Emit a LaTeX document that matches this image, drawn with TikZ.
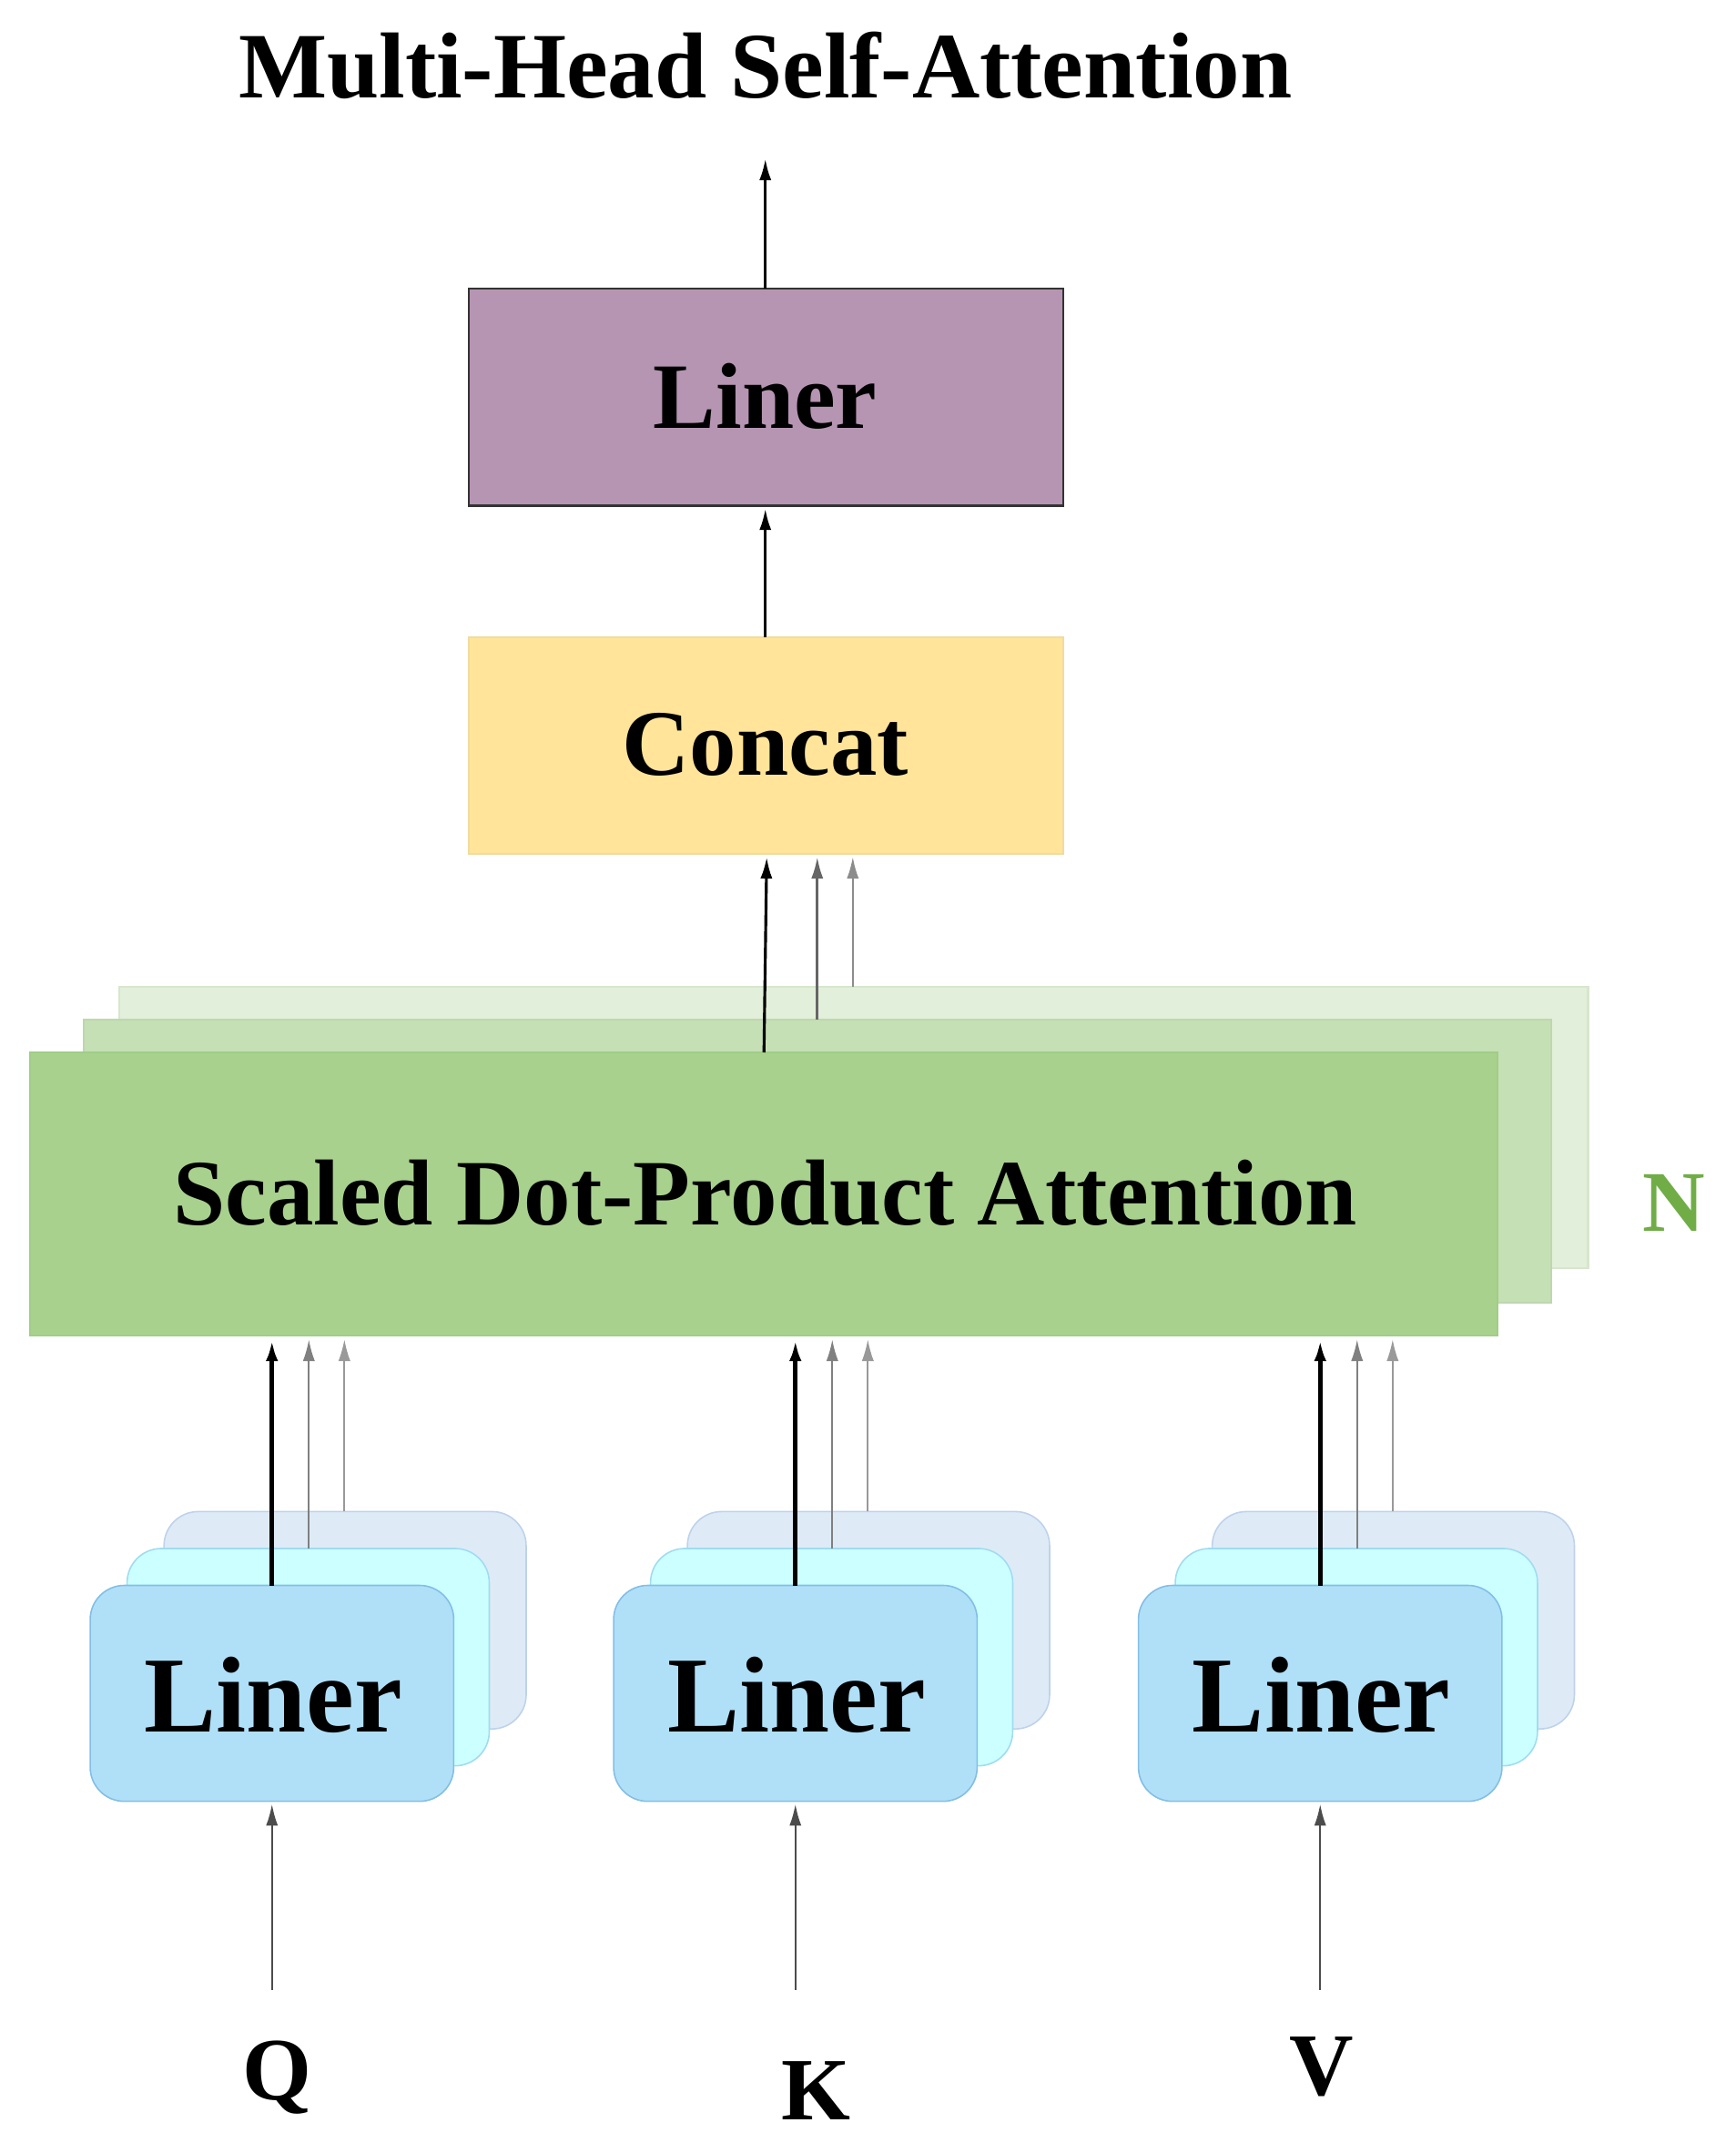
\documentclass[tikz,border=0pt]{standalone}
\usepackage{fontspec}
\setmainfont{Liberation Serif}
\usetikzlibrary{arrows.meta}
\definecolor{purp}{RGB}{181,149,178}
\definecolor{conc}{RGB}{255,228,153}
\definecolor{concd}{RGB}{240,220,160}
\definecolor{g1}{RGB}{226,239,218}\definecolor{g1d}{RGB}{215,230,205}
\definecolor{g2}{RGB}{197,224,180}\definecolor{g2d}{RGB}{190,215,175}
\definecolor{g3}{RGB}{169,209,142}\definecolor{g3d}{RGB}{160,205,135}
\definecolor{ngreen}{RGB}{112,173,71}
\definecolor{b1}{RGB}{222,235,247}\definecolor{b1d}{RGB}{190,210,235}
\definecolor{b2}{RGB}{204,255,255}\definecolor{b2d}{RGB}{160,220,240}
\definecolor{b3}{RGB}{176,224,248}\definecolor{b3d}{RGB}{130,190,230}
\begin{document}
\begin{tikzpicture}[x=0.02cm,y=-0.02cm,
  box/.style={draw=#1,line width=0.8pt,inner sep=0},
  arr/.style={-{Latex[length=9pt,width=5pt]},line width=1.2pt},
  big/.style={font=\fontsize{39}{44}\selectfont\bfseries},
  lin/.style={rounded corners=0.5cm,draw=#1,line width=0.6pt}]
\useasboundingbox (0,0) rectangle (1270,1568);
\node[big] (title) at (560,48) {Multi-Head Self-Attention};
\draw[box=black!80,fill=purp] (343,211) rectangle (778,370);
\node[big] (liner) at (560,290) {Liner};
\coordinate (lt) at (560,211); \coordinate (out) at (560,116);
\draw[arr] (lt) -- (out);
\draw[box=concd,fill=conc] (343,466) rectangle (778,625);
\node[big] (concat) at (560,545) {Concat};
\coordinate (ct) at (560,466); \coordinate (lb) at (560,372);
\draw[arr] (ct) -- (lb);
\draw[box=g1d,fill=g1] (87,722) rectangle (1162,928);
\draw[box=g2d,fill=g2] (61,746) rectangle (1135,953);
\draw[box=g3d,fill=g3] (22,770) rectangle (1096,977);
\node[big] (sdpa) at (560,873) {Scaled Dot-Product Attention};
\node[font=\fontsize{36}{40}\selectfont\bfseries,text=ngreen] (N) at (1225,880) {N};
\coordinate (s1) at (559,770); \coordinate (c1) at (561,627);
\coordinate (s2) at (598,746); \coordinate (c2) at (598,627);
\coordinate (s3) at (624,722); \coordinate (c3) at (624,627);
\draw[arr] (s1) -- (c1);
\draw[arr,black!60,line width=1pt] (s2) -- (c2);
\draw[arr,black!45,line width=0.8pt] (s3) -- (c3);
\foreach \dx [count=\i] in {0,383,767}{
  \begin{scope}[xshift=\dx*0.02cm]
  \draw[lin=b1d,fill=b1] (120,1106) rectangle (385,1265);
  \draw[lin=b2d,fill=b2] (93,1133) rectangle (358,1292);
  \draw[lin=b3d,fill=b3] (66,1160) rectangle (332,1318);
  \node[font=\fontsize{45}{50}\selectfont\bfseries] (L\i) at (200,1240) {Liner};
  \coordinate (a\i) at (199,1160); \coordinate (b\i) at (199,980);
  \coordinate (a\i b) at (226,1133); \coordinate (b\i b) at (226,980);
  \coordinate (a\i c) at (252,1106); \coordinate (b\i c) at (252,980);
  \draw[arr,line width=1.8pt] (a\i) -- (b\i);
  \draw[arr,black!50,line width=0.8pt] (a\i b) -- (b\i b);
  \draw[arr,black!40,line width=0.7pt] (a\i c) -- (b\i c);
  \coordinate (in\i) at (199,1456); \coordinate (lbot\i) at (199,1320);
  \draw[arr,black!70,line width=0.8pt] (in\i) -- (lbot\i);
  \end{scope}
}
\node[font=\fontsize{37}{40}\selectfont\bfseries] (Q) at (203,1520) {Q};
\node[font=\fontsize{37}{40}\selectfont\bfseries] (K) at (597,1530) {K};
\node[font=\fontsize{37}{40}\selectfont\bfseries] (V) at (967,1512) {V};
\end{tikzpicture}
\end{document}
